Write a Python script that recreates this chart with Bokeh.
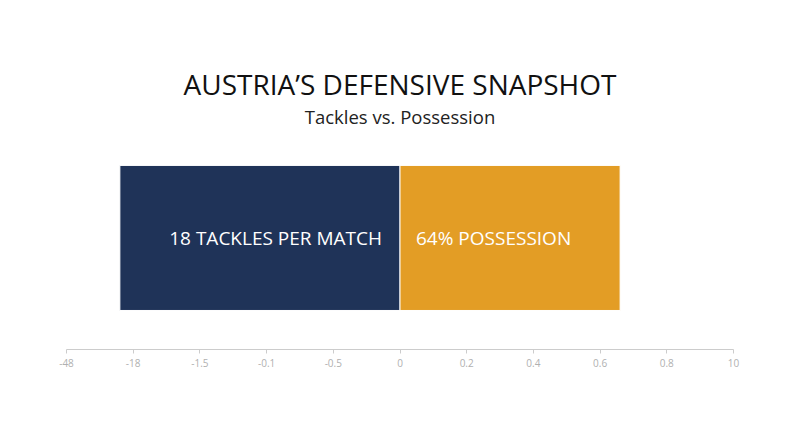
from bokeh.plotting import figure
from bokeh.models import Range1d, FixedTicker, Title, ColumnDataSource
from bokeh.core.properties import value
from bokeh.embed import file_html
from bokeh.resources import INLINE

# ---- data ----
metrics = ["18 TACKLES PER MATCH", "64% POSSESSION"]
bar_values = [-0.84, 0.66]
bar_colors = ["#1f3358", "#e39d25"]
tick_positions = [-1.0, -0.8, -0.6, -0.4, -0.2, 0.0, 0.2, 0.4, 0.6, 0.8, 1.0]
tick_labels = ["-48", "-18", "-1.5", "-0.1", "-0.5", "0", "0.2", "0.4", "0.6", "0.8", "10"]
title_text = "AUSTRIA’S DEFENSIVE SNAPSHOT"
subtitle_text = "Tackles vs. Possession"

FONT = "Open Sans"

src = ColumnDataSource(dict(
    y=[0] * len(bar_values),
    left=[min(0, v) for v in bar_values],
    right=[max(0, v) for v in bar_values],
    color=bar_colors,
))

p = figure(width=784, height=431, output_backend="svg", toolbar_location=None,
           title=None,
           x_range=Range1d(-1.0, 1.0), y_range=Range1d(-0.769, 0.72),
           min_border_left=66, min_border_right=51,
           min_border_bottom=82, min_border_top=133)

p.hbar(y="y", left="left", right="right", height=1, color="color",
       line_color="white", line_width=1, source=src)

p.text(x=[0], y=[0], text=[metrics[0]], text_align="right", text_baseline="middle",
       x_offset=-18, text_color="white", text_font_size="19px", text_font=value(FONT))
p.text(x=[0], y=[0], text=[metrics[1]], text_align="left", text_baseline="middle",
       x_offset=16, text_color="white", text_font_size="19px", text_font=value(FONT))

p.add_layout(Title(text=subtitle_text, align="center", text_font_size="18.5px",
                   text_font_style="normal", text_color="#222222", text_font=FONT), "above")
p.add_layout(Title(text=title_text, align="center", text_font_size="28px", standoff=-12,
                   text_font_style="normal", text_color="#111111", text_font=FONT), "above")

p.xaxis.ticker = FixedTicker(ticks=tick_positions)
p.xaxis.major_label_overrides = {t: l for t, l in zip(tick_positions, tick_labels)}
p.xaxis.axis_line_color = "#cccccc"
p.xaxis.major_tick_line_color = "#cccccc"
p.xaxis.major_tick_out = 4
p.xaxis.major_tick_in = 0
p.xaxis.minor_tick_line_color = None
p.xaxis.major_label_text_color = "#b0b0b0"
p.xaxis.major_label_text_font_size = "10px"
p.xaxis.major_label_text_font = FONT
p.xaxis.major_label_standoff = 5
p.yaxis.visible = False
p.xgrid.visible = False
p.ygrid.visible = False
p.outline_line_color = None

open("out.html", "w").write(file_html(p, INLINE))
